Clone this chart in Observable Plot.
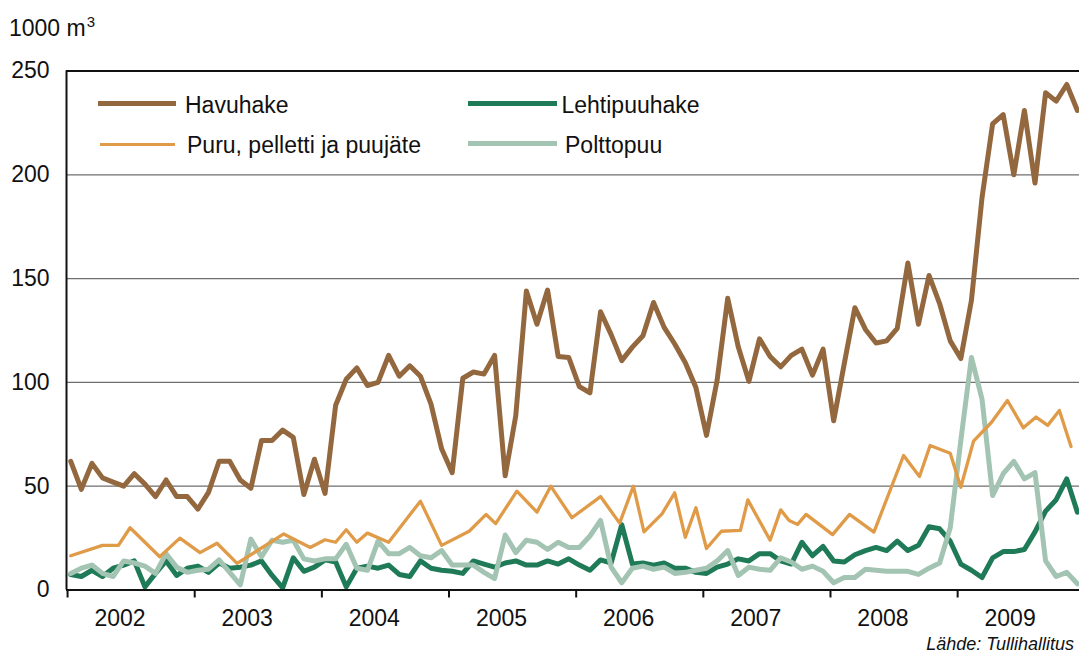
<!DOCTYPE html>
<html><head><meta charset="utf-8">
<script src="https://cdn.jsdelivr.net/npm/d3@7"></script>
<script src="https://cdn.jsdelivr.net/npm/@observablehq/plot@0.6"></script>
<style>
body{margin:0;background:#fff;font-family:"Liberation Sans",Arial,sans-serif;}
#wrap{position:relative;width:1079px;height:655px;overflow:hidden;background:#fff;}
#wrap svg{position:absolute;left:0;top:0;}
.t{position:absolute;font-size:23px;line-height:23px;color:#111;white-space:nowrap;}
.sw{position:absolute;}
</style></head><body><div id="wrap"></div>
<script>
// Categories
const years = ["2002","2003","2004","2005","2006","2007","2008","2009"];
const months = d3.range(years.length * 12); // months since Jan 2002
const yTicks = [0, 50, 100, 150, 200, 250];
const gridValues = [50, 100, 150, 200];

// Series values (1000 m3), monthly
const havuhake = [62,48.5,61,54,52,50,56,51,45,53,45,45,
  39,47,62,62,53,49,72,72,77,73.5,46,63,
  46.5,89,101.5,107,98.5,100,113,103,108,103,89.5,68,
  56.5,102,105,104,113,55,84,144,128,144.5,112.5,112,
  98,95,134,123,110.5,117,122.5,138.5,126.5,118.5,109.5,97.5,
  74.5,101,140.5,117,100.5,121,112.5,107.5,113,116,103.5,116,
  81.5,109,136,125.5,119,120,126,157.5,128,151.5,138,120,
  111.5,139.5,189,224.5,229,200,231,196,239.5,235.5,243.5,231];

const lehtipuuhake = [7.5,6.5,9.5,6.5,10.5,12,14,1.5,8,14,7,10.5,
  11.5,8.5,13,10.5,11,12,14,7,1,15.5,9,11,
  14.5,13.5,1.5,10.5,11.5,10.5,12,7.5,6.5,14,10.5,9.5,
  9,8,14,12.5,11,13,14,12,12,14,12.5,15,
  12,9.5,14.5,13,31.5,12.5,13,12,13,10.5,10.5,8.5,
  8,11,12.5,15,14,17.5,17.5,14,12.5,23,16.5,21,
  14,13.5,17,19,20.5,19,23.5,19,21.5,30.5,29.5,23.5,
  12.5,9.5,6,15.5,18.5,18.5,19.5,28,38,43.5,53.5,37.5];

const polttopuu = [8,10.5,12,8,6.5,14,13,11.5,8,17.5,11,8.5,
  9.5,10,14.5,8.5,2.5,24.5,16,24,23,24,15,14,
  15,15,22,10.5,9.5,23.5,17.5,17.5,20.5,16.5,15.5,19,
  12,12,12,8.5,5.5,26.5,18,24,23,19.5,23,20.5,
  20.5,26,33.5,11,3.5,10.5,11.5,10,11,8,8.5,9.5,
  10.5,14,19,7,11,10,9.5,15.5,13.5,10,11.5,9,
  3.5,6,6,10,9.5,9,9,9,7.5,10.5,13,30,
  72,112,92,45.5,56,62,53.5,56.5,14,6.5,8.5,3];

// Puru, pelletti ja puujäte: readings at the corners of its line (month position, value)
const puruMonths = [0,3,4.5,5.6,8.4,10.3,12.2,13.8,15.7,20.1,22.6,24,25,26,27,28,30,33,35,37.6,39.2,40.1,42.1,44,45.3,47.3,50,51.8,53.1,54.1,55.8,57,58,59,60,61.4,63.2,63.9,66,67,67.8,68.6,69.4,71.9,73.5,75.8,78.6,80.1,81.1,83,84,85.2,86.9,88.4,89.9,91.1,92.2,93.3,94.4];
const puruValues = [16.5,21.5,21.5,30,16,25,18,22.5,12.8,27,20.5,24.2,23,29,23,27.4,23,42.8,21.5,28.3,36.4,32,47.6,37.5,50,34.8,45,32.2,50,28,36.7,46.8,25.4,39.6,20,28.3,28.7,43.4,24,38.6,33.5,31.6,36.4,26.7,36.4,27.9,64.8,54.7,69.6,65.9,49.5,71.7,80.8,91.3,78.1,83.3,79.3,86.5,69.1];

const seriesNames = ["Havuhake","Lehtipuuhake","Puru, pelletti ja puujäte","Polttopuu"];
const colors = {"Havuhake":"#94683f","Lehtipuuhake":"#1f7a58","Puru, pelletti ja puujäte":"#e09b48","Polttopuu":"#a3c4b2"};

const toRows = (vals) => months.map((m, i) => ({m, v: vals[i]}));
const havuRows = toRows(havuhake);
const lehtiRows = toRows(lehtipuuhake);
const polttoRows = toRows(polttopuu);
const puruRows = puruMonths.map((m, i) => ({m, v: puruValues[i]}));

const xDomain = [-0.4, 95.2];
const yearStarts = years.map((y, k) => 12 * k - 0.3);
const labelPos = years.map((y, k) => 12 * k + 4.65);

const chart = Plot.plot({
  width: 1079, height: 655,
  marginTop: 70.5, marginBottom: 65.5, marginLeft: 66, marginRight: 0,
  x: {domain: xDomain},
  y: {domain: [0, 250]},
  style: {fontFamily: "'Liberation Sans', Arial, sans-serif", fontSize: "23px", color: "#111", background: "transparent"},
  marks: [
    Plot.ruleY(gridValues, {stroke: "#6e6e6e", strokeWidth: 1.2}),
    Plot.ruleY([250], {stroke: "#111", strokeWidth: 2}),
    Plot.axisY({ticks: yTicks, tickSize: 0, tickPadding: 17, label: null, fontSize: 23}),
    Plot.axisX({ticks: yearStarts, tickSize: 8, tickFormat: () => "", label: null, stroke: "#111", strokeWidth: 2}),
    Plot.axisX({ticks: labelPos, tickSize: 0, tickPadding: 20, label: null, fontSize: 23,
      tickFormat: d => years[Math.round((d - 4.65) / 12)]}),
    Plot.line(lehtiRows, {x: "m", y: "v", stroke: colors["Lehtipuuhake"], strokeWidth: 5}),
    Plot.line(polttoRows, {x: "m", y: "v", stroke: colors["Polttopuu"], strokeWidth: 5}),
    Plot.line(puruRows, {x: "m", y: "v", stroke: colors["Puru, pelletti ja puujäte"], strokeWidth: 3.3}),
    Plot.line(havuRows, {x: "m", y: "v", stroke: colors["Havuhake"], strokeWidth: 5}),
    Plot.ruleY([0], {stroke: "#111", strokeWidth: 2}),
    Plot.ruleX([xDomain[0]], {stroke: "#111", strokeWidth: 2})
  ]
});

const wrap = document.getElementById("wrap");
wrap.appendChild(chart);

function addText(html, css) {
  const d = document.createElement("div");
  d.className = "t";
  d.innerHTML = html;
  Object.assign(d.style, css);
  wrap.appendChild(d);
  return d;
}
function addSwatch(color, css) {
  const d = document.createElement("div");
  d.className = "sw";
  d.style.background = color;
  Object.assign(d.style, css);
  wrap.appendChild(d);
}
// unit label
addText('1000 m<span style="font-size:15px;position:relative;top:-9px;margin-left:1px">3</span>', {left: "9px", top: "16.5px"});
// legend
addSwatch(colors["Havuhake"], {left: "98px", top: "101px", width: "78px", height: "5px"});
addText(seriesNames[0], {left: "185px", top: "93.8px"});
addSwatch(colors["Puru, pelletti ja puujäte"], {left: "100px", top: "143px", width: "75px", height: "3.3px"});
addText(seriesNames[2], {left: "187px", top: "133.8px"});
addSwatch(colors["Lehtipuuhake"], {left: "468px", top: "101px", width: "89px", height: "5px"});
addText(seriesNames[1], {left: "561.5px", top: "93.8px"});
addSwatch(colors["Polttopuu"], {left: "468px", top: "141px", width: "89px", height: "5px"});
addText(seriesNames[3], {left: "565px", top: "133.8px"});
// source
addText("Lähde: Tullihallitus", {right: "5px", top: "634px", fontSize: "18px", lineHeight: "20px", fontStyle: "italic"});
</script>
</body></html>
